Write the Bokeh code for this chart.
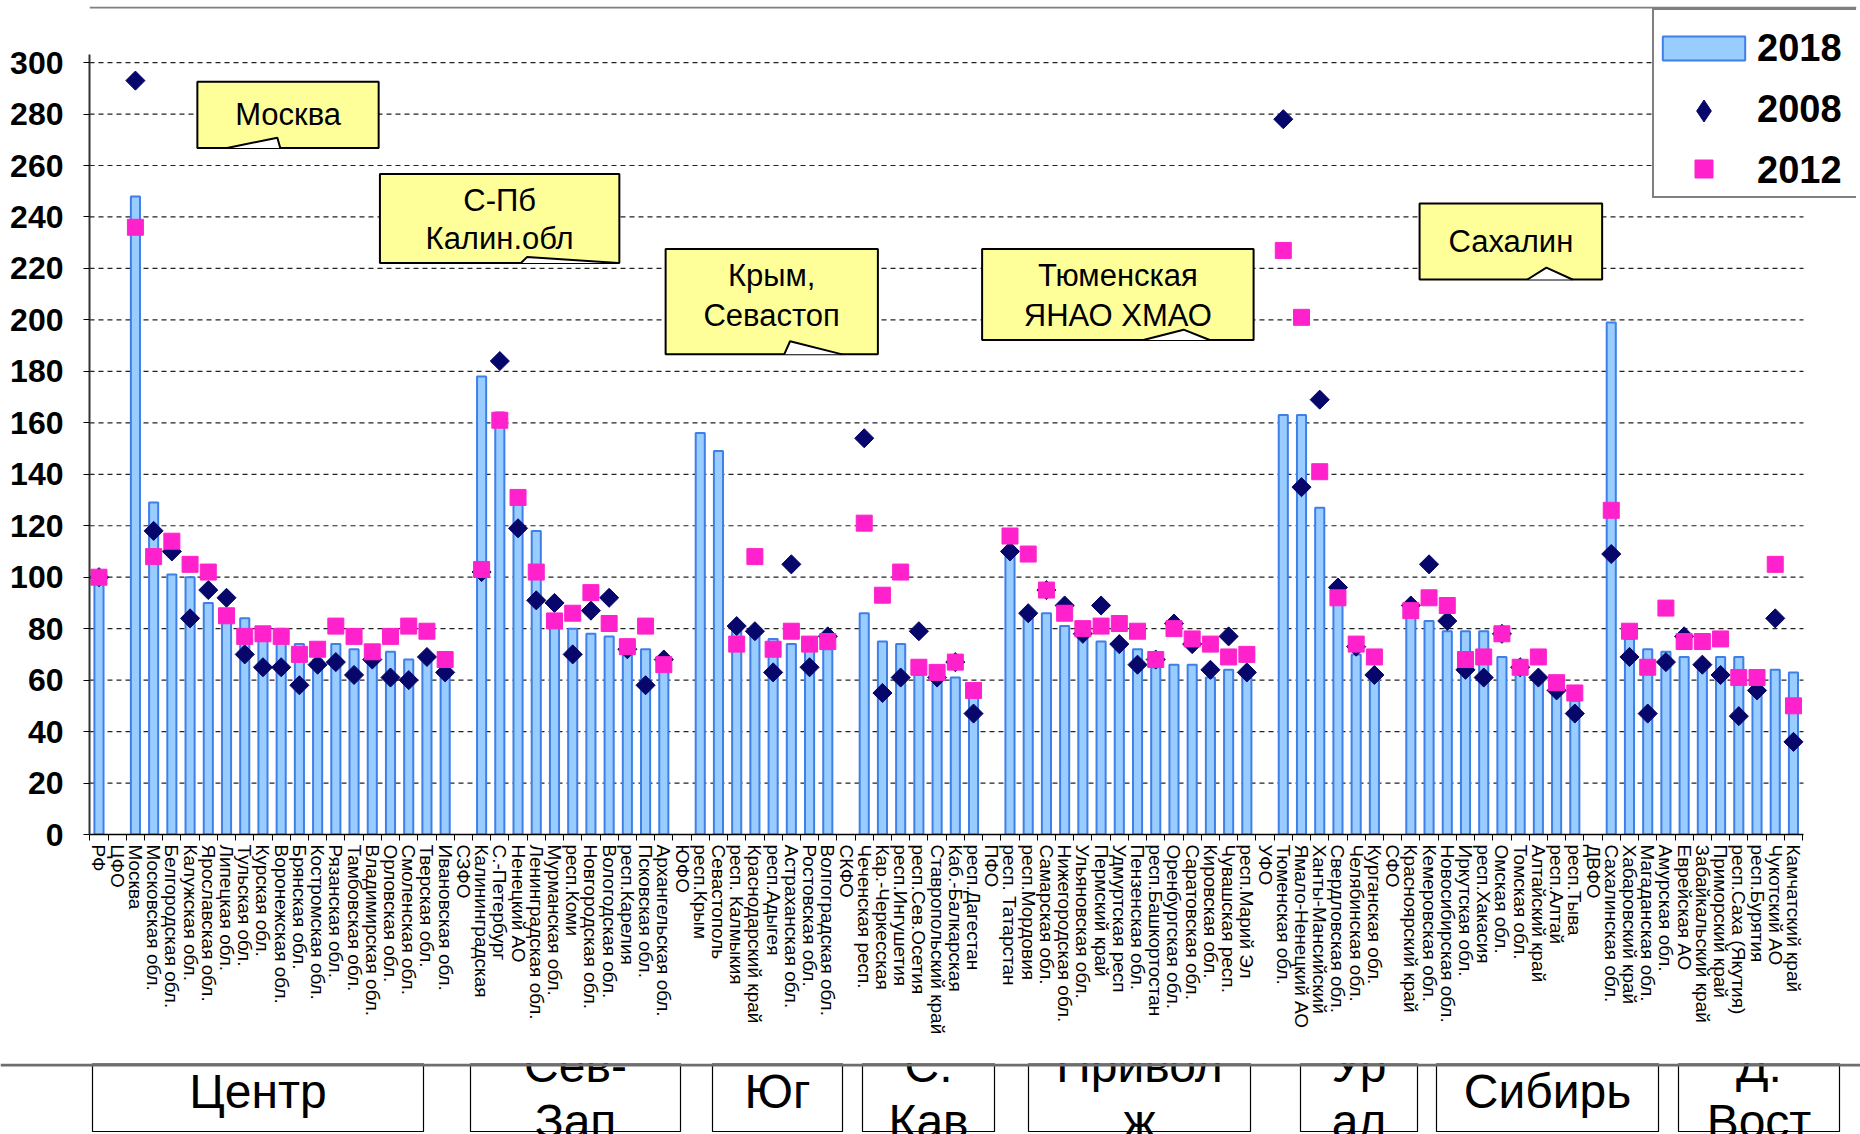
import math
from bokeh.plotting import figure
from bokeh.models import (ColumnDataSource, Range1d, FixedTicker, Legend, LegendItem,
                          Span, CustomJSTickFormatter)
from bokeh.layouts import column
from bokeh.embed import file_html
from bokeh.resources import INLINE
from bokeh.core.properties import value

# ---------------- data ----------------
categories = [
    "РФ", "ЦФО", "Москва", "Московская обл.", "Белгородская обл.", "Калужская обл.",
    "Ярославская обл.", "Липецкая обл.", "Тульская обл.", "Курская обл.", "Воронежская обл.",
    "Брянская обл.", "Костромская обл.", "Рязанская обл.", "Тамбовская обл.", "Владимирская обл.",
    "Орловская обл.", "Смоленская обл.", "Тверская обл.", "Ивановская обл.",
    "СЗФО", "Калининградская", "С.-Петербург", "Ненецкий АО", "Ленинградская обл.",
    "Мурманская обл.", "респ.Коми", "Новгородская обл.", "Вологодская обл.", "респ.Карелия",
    "Псковская обл.", "Архангельская обл.",
    "ЮФО", "респ.Крым", "Севастополь", "респ. Калмыкия", "Краснодарский край", "респ.Адыгея",
    "Астраханская обл.", "Ростовская обл.", "Волгоградская обл.",
    "СКФО", "Чеченская респ.", "Кар.-Черкесская", "респ.Ингушетия", "респ.Сев.Осетия",
    "Ставропольский край", "Каб.-Балкарская", "респ.Дагестан",
    "ПФО", "респ. Татарстан", "респ.Мордовия", "Самарская обл.", "Нижегородская обл.",
    "Ульяновская обл.", "Пермский край", "Удмуртская респ", "Пензенская обл.",
    "респ.Башкортостан", "Оренбургская обл.", "Саратовская обл.", "Кировская обл.",
    "Чувашская респ.", "респ.Марий Эл",
    "УФО", "Тюменская обл.", "Ямало-Ненецкий АО", "Ханты-Мансийский", "Свердловская обл.",
    "Челябинская обл.", "Курганская обл.",
    "СФО", "Красноярский край", "Кемеровская обл.", "Новосибирская обл.", "Иркутская обл.",
    "респ.Хакасия", "Омская обл.", "Томская обл.", "Алтайский край", "респ.Алтай", "респ.Тыва",
    "ДВФО", "Сахалинская обл.", "Хабаровский край", "Магаданская обл.", "Амурская обл.",
    "Еврейская АО", "Забайкальский край", "Приморский край", "респ.Саха (Якутия)",
    "респ.Бурятия", "Чукотский АО", "Камчатский край",
]

v2018 = [98, None, 248, 129, 101, 100, 90, 87, 84, 80, 80, 74, 68, 74, 72, 70, 71, 68, 69, 64,
         None, 178, 164, 129, 118, 84, 80, 78, 77, 70, 72, 67,
         None, 156, 149, 79, 80, 76, 74, 74, 72,
         None, 86, 75, 74, 62, 59, 61, 56,
         None, 108, 87, 86, 81, 78, 75, 72, 72, 65, 66, 66, 61, 64, 61,
         None, 163, 163, 127, 94, 70, 62,
         None, 90, 83, 79, 79, 79, 69, 64, 62, 56, 52,
         None, 199, 76, 72, 71, 69, 67, 69, 69, 59, 64, 63]

v2008 = [100, None, 293, 118, 110, 84, 95, 92, 70, 65, 65, 58, 66, 67, 62, 68, 61, 60, 69, 63,
         None, 102, 184, 119, 91, 90, 70, 87, 92, 72, 58, 68,
         None, None, None, 81, 79, 63, 105, 65, 77,
         None, 154, 55, 61, 79, 61, 67, 47,
         None, 110, 86, 95, 89, 78, 89, 74, 66, 68, 82, 74, 64, 77, 63,
         None, 278, 135, 169, 96, 73, 62,
         None, 89, 105, 83, 64, 61, 78, 65, 61, 56, 47,
         None, 109, 69, 47, 67, 77, 66, 62, 46, 56, 84, 36]

v2012 = [100, None, 236, 108, 114, 105, 102, 85, 77, 78, 77, 70, 72, 81, 77, 71, 77, 81, 79, 68,
         None, 103, 161, 131, 102, 83, 86, 94, 82, 73, 81, 66,
         None, None, None, 74, 108, 72, 79, 74, 75,
         None, 121, 93, 102, 65, 63, 67, 56,
         None, 116, 109, 95, 86, 80, 81, 82, 79, 68, 80, 76, 74, 69, 70,
         None, 227, 201, 141, 92, 74, 69,
         None, 87, 92, 89, 68, 69, 78, 65, 69, 59, 55,
         None, 126, 79, 65, 88, 75, 75, 76, 61, 61, 105, 50]

y_ticks = list(range(0, 301, 20))
series_labels = ["2018", "2008", "2012"]

# region boxes under the chart
group_lines = [["Центр"], ["Сев-", "Зап"], ["Юг"], ["С.", "Кав"], ["Привол", "ж"],
               ["Ур", "ал"], ["Сибирь"], ["Д.", "Вост"]]

# ---------------- styling / layout ----------------
FONT = "Liberation Sans"
BAR_FILL = "#99CCFF"
BAR_LINE = "#3F7FE8"
NAVY = "#06066B"
PINK = "#FF22CC"
CALLOUT_FILL = "#FFFF99"

NaN = float("nan")


def clean(a):
    return [NaN if v is None else v for v in a]


n = len(categories)
x_idx = list(range(n))
src = ColumnDataSource(dict(x=x_idx, name=categories, v2018=clean(v2018),
                            v2008=clean(v2008), v2012=clean(v2012)))

X_LO, X_HI = -0.52, 93.55          # extent of the category area
p = figure(width=1860, height=1063,
           x_range=Range1d(X_LO, 96.46), y_range=Range1d(0, 321.8),
           output_backend="svg", toolbar_location=None,
           min_border_left=89, min_border_right=4, min_border_top=6, min_border_bottom=229)
p.frame_align = False
p.outline_line_color = None
p.background_fill_color = "white"
p.grid.visible = False

# top rule
p.add_layout(Span(location=321.4, dimension="width", line_color="#808080", line_width=2))

# dotted horizontal grid, limited to the category area
gy = [t for t in y_ticks if t > 0]
p.segment(x0=[X_LO] * len(gy), x1=[X_HI] * len(gy), y0=gy, y1=gy,
          line_color="#222222", line_dash="5 4", line_width=1.2)

# y axis
p.yaxis.ticker = FixedTicker(ticks=y_ticks)
p.yaxis.bounds = (0, 303)
p.yaxis.major_label_text_font = FONT
p.yaxis.major_label_text_font_size = "32px"
p.yaxis.major_label_text_font_style = "bold"
p.yaxis.major_label_text_color = "black"
p.yaxis.major_tick_out = 6
p.yaxis.major_tick_in = 0
p.yaxis.minor_tick_line_color = None
p.yaxis.axis_line_color = "#333333"
p.yaxis.axis_line_width = 2
p.yaxis.major_label_standoff = 20

# x axis
p.xaxis.ticker = FixedTicker(ticks=x_idx, minor_ticks=[i - 0.5 for i in range(n + 1)])
p.xaxis.bounds = (X_LO, X_HI)
p.xaxis.formatter = CustomJSTickFormatter(
    args=dict(labels=categories),
    code="const i = Math.round(tick); return (i >= 0 && i < labels.length) ? labels[i] : '';")
p.xaxis.major_label_orientation = "vertical"
p.xaxis.major_label_text_font = FONT
p.xaxis.major_label_text_font_size = "19px"
p.xaxis.major_label_text_color = "black"
p.xaxis.major_tick_line_color = None
p.xaxis.major_tick_out = 0
p.xaxis.major_tick_in = 0
p.xaxis.minor_tick_out = 6
p.xaxis.minor_tick_in = 0
p.xaxis.minor_tick_line_color = "black"
p.xaxis.axis_line_color = "black"
p.xaxis.axis_line_width = 1.5
p.xaxis.major_label_standoff = 4

# data glyphs
bars = p.vbar(x="x", top="v2018", bottom=0, width=0.5, source=src,
              fill_color=BAR_FILL, line_color=BAR_LINE, line_width=2)
d08 = p.scatter(x="x", y="v2008", source=src, marker="square", angle=math.pi / 4, size=13.5,
                fill_color=NAVY, line_color=NAVY)
s12 = p.scatter(x="x", y="v2012", source=src, marker="square", size=16,
                fill_color=PINK, line_color=PINK)

# callouts (annotation layout, data units)
cb = dict(left=[5.40, 15.42, 31.10, 48.47, 72.48],
          right=[15.35, 28.56, 42.75, 63.37, 82.50],
          bottom=[266.8, 222.1, 186.6, 192.2, 215.7],
          top=[292.6, 256.7, 227.6, 227.6, 245.2])
p.quad(left="left", right="right", bottom="bottom", top="top", source=ColumnDataSource(cb),
       fill_color=CALLOUT_FILL, line_color="black", line_width=2)
notch_xs = [[7.03, 9.79, 9.95], [23.16, 23.49, 28.50], [37.61, 37.93, 40.79],
            [57.32, 59.53, 60.96], [78.40, 79.44, 80.87]]
notch_ys = [[266.8, 270.8, 266.8], [222.1, 224.4, 222.1], [186.6, 191.7, 186.6],
            [192.2, 196.2, 192.2], [215.7, 220.3, 215.7]]
p.patches(xs=notch_xs, ys=notch_ys, fill_color="white", line_color=None)
p.multi_line(xs=notch_xs, ys=notch_ys, line_color="black", line_width=2)
ct = dict(x=[10.38, 21.99, 21.99, 36.92, 36.92, 55.92, 55.92, 77.49],
          y=[279.7, 246.5, 231.8, 217.1, 201.8, 217.1, 201.8, 230.5],
          text=["Москва", "С-Пб", "Калин.обл", "Крым,", "Севастоп", "Тюменская", "ЯНАО ХМАО",
                "Сахалин"])
p.text(x="x", y="y", text="text", source=ColumnDataSource(ct), text_font=value(FONT),
       text_font_size="31px", text_align="center", text_baseline="middle", text_color="black")

# legend (swatch renderers hold one off-screen point)
blank = p.scatter(x=[NaN], y=[NaN], marker="square", size=1, fill_alpha=0, line_alpha=0)
dummy_d = p.scatter(x=[NaN], y=[NaN], marker="diamond", size=10, fill_color=NAVY, line_color=NAVY)
dummy_s = p.scatter(x=[NaN], y=[NaN], marker="square", size=10, fill_color=PINK, line_color=PINK)

base = dict(glyph_width=103, label_height=48, label_width=85, spacing=13, padding=8, margin=0,
            label_standoff=2, label_text_font=FONT, label_text_font_size="38px",
            label_text_font_style="bold", label_text_color="black")
frame_legend = Legend(items=[LegendItem(label=" ", renderers=[blank]) for _ in range(3)],
                      location=(1563, 636), glyph_height=30, border_line_color="black",
                      border_line_width=2, background_fill_color="white",
                      background_fill_alpha=1.0, **base)
label_legend = Legend(items=[LegendItem(label=series_labels[0], renderers=[bars]),
                             LegendItem(label=series_labels[1], renderers=[blank]),
                             LegendItem(label=series_labels[2], renderers=[blank])],
                      location=(1563, 640), glyph_height=30, border_line_color=None,
                      background_fill_alpha=0, **base)
diamond_legend = Legend(items=[LegendItem(label=" ", renderers=[dummy_d])],
                        location=(1563, 696), glyph_height=55, border_line_color=None,
                        background_fill_alpha=0, **base)
square_legend = Legend(items=[LegendItem(label=" ", renderers=[dummy_s])],
                       location=(1563, 642), glyph_height=45, border_line_color=None,
                       background_fill_alpha=0, **base)
for lg in (frame_legend, label_legend, diamond_legend, square_legend):
    p.add_layout(lg)

# ---------------- bottom band ----------------
band = figure(width=1860, height=71, x_range=Range1d(0, 1860), y_range=Range1d(1134, 1063),
              output_backend="svg", toolbar_location=None,
              min_border_left=0, min_border_right=0, min_border_top=0, min_border_bottom=0)
band.frame_align = False
band.axis.visible = False
band.grid.visible = False
band.outline_line_color = None
group_left = [92, 470, 712, 862, 1028, 1300, 1436, 1678]
group_right = [423, 680, 842, 994, 1250, 1417, 1658, 1839]
band.quad(left=group_left, right=group_right, top=[1063] * 8, bottom=[1131] * 8,
          fill_color="white", line_color="black", line_width=1.2)
band.add_layout(Span(location=1064.5, dimension="width", line_color="#6e6e6e", line_width=3))
tx, ty, tt = [], [], []
for lines, l, r in zip(group_lines, group_left, group_right):
    cx = (l + r) / 2
    if len(lines) == 1:
        tx.append(cx); ty.append(1091); tt.append(lines[0])
    else:
        tx += [cx, cx]; ty += [1065, 1121]; tt += lines
band.text(x=tx, y=ty, text=tt, text_font=value(FONT), text_font_size="48px",
          text_align="center", text_baseline="middle", text_color="black")

layout = column(p, band, spacing=0)
open("out.html", "w").write(file_html(layout, INLINE))
